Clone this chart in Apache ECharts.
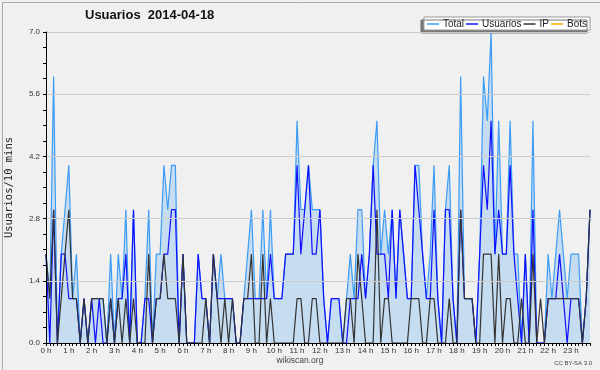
<!DOCTYPE html>
<html>
<head>
<meta charset="utf-8">
<script src="https://cdn.jsdelivr.net/npm/echarts@6/dist/echarts.min.js"></script>
<style>
html,body{margin:0;padding:0;background:#f0f0f0;}
#c{width:600px;height:370px;}
</style>
</head>
<body>
<div id="c"></div>
<script>
const hourLabels = ['0 h','1 h','2 h','3 h','4 h','5 h','6 h','7 h','8 h','9 h','10 h','11 h','12 h','13 h','14 h','15 h','16 h','17 h','18 h','19 h','20 h','21 h','22 h','23 h'];
const yTicks = [0, 1.4, 2.8, 4.2, 5.6, 7.0];

const total = [2,1,6,0,2,3, 4,1,2,0,1,0, 1,1,1,1,0,2, 0,2,1,3,0,3,
  0,0,1,3,0,2, 2,4,3,4,4,0, 2,0,0,0,2,1, 1,0,2,1,2,1,
  1,1,0,0,1,2, 3,1,1,3,1,3, 1,1,1,2,2,2, 5,3,3,4,3,3,
  3,1,0,1,1,1, 0,1,2,1,3,3, 1,2,4,5,2,3, 2,3,1,3,2,1,
  1,4,4,2,1,2, 4,1,0,3,4,1, 0,6,1,1,1,0, 2,6,5,7,2,5,
  2,2,5,2,2,0, 2,0,5,0,0,0, 2,1,2,3,2,1, 2,2,2,0,1,3];
const usuarios = [2,0,3,0,2,2, 1,1,1,0,1,0, 1,0,1,0,0,1, 0,1,1,2,0,3,
  0,0,1,1,0,1, 1,2,2,3,3,0, 2,0,0,0,2,1, 1,0,2,1,1,1,
  1,1,0,0,1,1, 1,1,1,1,1,2, 1,1,1,2,2,2, 4,2,3,4,2,2,
  3,1,0,1,1,1, 0,0,1,1,1,2, 1,2,4,2,2,2, 1,3,1,3,2,1,
  1,4,3,2,1,1, 3,1,0,3,3,1, 0,3,1,1,1,0, 2,4,3,5,2,3,
  2,2,4,2,1,0, 2,0,3,0,0,0, 1,1,1,2,1,0, 1,1,1,0,1,3];
const ip = [2,1,3,0,1,2, 3,1,1,0,1,0, 1,1,1,1,0,1, 0,1,0,1,0,1,
  0,0,0,2,0,1, 1,2,1,1,1,0, 2,0,0,0,0,0, 1,0,2,1,0,1,
  0,1,0,0,1,1, 2,0,0,2,0,1, 0,0,0,0,0,0, 1,1,0,0,1,1,
  0,0,0,0,0,0, 0,1,1,0,2,1, 0,0,0,3,0,1, 1,0,0,0,0,0,
  1,1,1,0,0,1, 1,0,0,0,1,0, 0,3,1,1,1,0, 0,2,2,2,0,2,
  0,1,1,0,0,1, 0,0,2,0,1,0, 1,1,1,1,1,1, 1,1,1,0,1,3];
const bots = total.map(() => 0);

const categories = [];
hourLabels.forEach(h => { for (let k = 0; k < 6; k++) categories.push(k === 0 ? h : ''); });

const chart = echarts.init(document.getElementById('c'), null, {renderer: 'canvas'});
const font = 'Liberation Sans, Arial, sans-serif';
chart.setOption({
  backgroundColor: '#f0f0f0',
  animation: false,
  title: {
    text: 'Usuarios  2014-04-18',
    left: 80, top: 4,
    textStyle: {fontFamily: font, fontSize: 13, fontWeight: 'bold', color: '#111'}
  },
  legend: {
    right: 10, top: 17,
    backgroundColor: '#ffffff',
    borderColor: '#999', borderWidth: 1,
    shadowColor: '#777', shadowBlur: 0, shadowOffsetX: -3, shadowOffsetY: 3,
    padding: [2, 3, 1, 3],
    itemGap: 2, itemWidth: 12, itemHeight: 1.5,
    icon: 'rect',
    textStyle: {fontFamily: font, fontSize: 10, color: '#222', padding: [0, 0, 0, -1]},
    data: ['Total', 'Usuarios', 'IP', 'Bots']
  },
  grid: {left: 46, right: 10, top: 32, bottom: 27, containLabel: false, outerBoundsMode: 'none'},
  xAxis: {
    type: 'category', data: categories, boundaryGap: false,
    axisLine: {lineStyle: {color: '#000', width: 1}},
    axisTick: {show: true, interval: 0, length: 3, lineStyle: {color: '#000'}},
    axisLabel: {interval: (i) => i % 6 === 0, fontFamily: font, fontSize: 8, color: '#333', margin: 4},
    splitLine: {show: false},
    z: 10
  },
  yAxis: {
    type: 'value', min: 0, max: 7, interval: 1.4,
    name: 'Usuarios/10 mins', nameLocation: 'middle', nameGap: 31, nameRotate: 90,
    nameTextStyle: {fontFamily: 'DejaVu Sans Mono, monospace', fontSize: 10.5, color: '#222'},
    axisLine: {show: true, lineStyle: {color: '#000', width: 1}},
    axisTick: {show: true, length: 3, lineStyle: {color: '#000'}},
    minorTick: {show: true, splitNumber: 4, length: 3, lineStyle: {color: '#000'}},
    axisLabel: {fontFamily: font, fontSize: 8, color: '#333', margin: 6,
      formatter: (v) => { const t = yTicks.find(x => Math.abs(x - v) < 1e-6); return (t !== undefined ? t : v).toFixed(1); }},
    splitLine: {show: true, lineStyle: {color: '#cccccc', width: 1}},
    z: 10
  },
  series: [
    {name: 'Total', type: 'line', data: total, symbol: 'none', lineStyle: {color: '#3b9cf5', width: 1.2},
      itemStyle: {color: '#3b9cf5'}, areaStyle: {color: '#c6dcf0', opacity: 1}, z: 2},
    {name: 'Usuarios', type: 'line', data: usuarios, symbol: 'none', lineStyle: {color: '#1010ff', width: 1.2},
      itemStyle: {color: '#1010ff'}, z: 3},
    {name: 'IP', type: 'line', data: ip, symbol: 'none', lineStyle: {color: '#333333', width: 1.2},
      itemStyle: {color: '#333333'}, z: 4},
    {name: 'Bots', type: 'line', data: bots, symbol: 'none', lineStyle: {color: '#ffa500', width: 1},
      itemStyle: {color: '#ffa500'}, z: 1}
  ],
  graphic: [
    {type: 'rect', left: 0, top: 0, shape: {width: 599, height: 369}, style: {fill: null, stroke: '#aaaaaa', lineWidth: 1}, silent: true},
    {type: 'text', left: 'center', top: 356, style: {text: 'wikiscan.org', font: '8.5px ' + font, fill: '#444'}},
    {type: 'text', right: 8, top: 360, style: {text: 'CC BY-SA 3.0', font: '6px ' + font, fill: '#444'}}
  ]
});
</script>
</body>
</html>
